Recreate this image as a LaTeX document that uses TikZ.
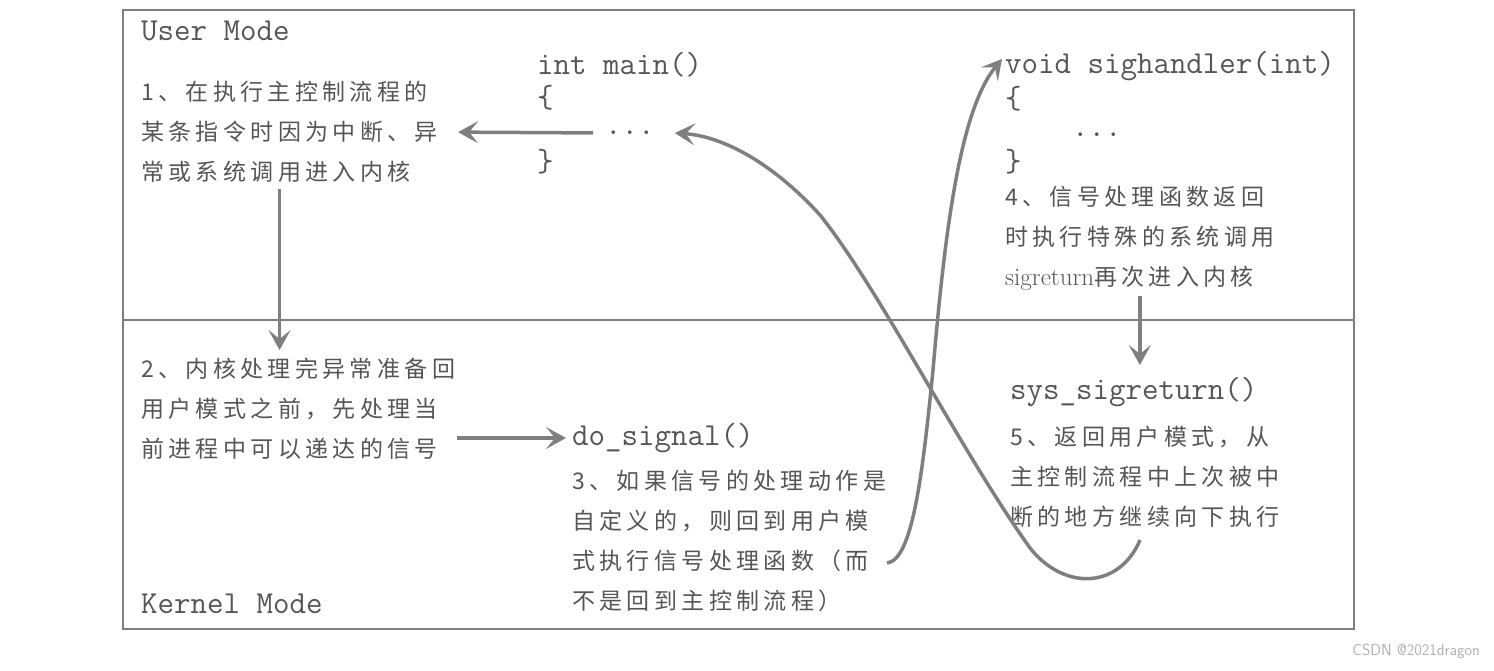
\documentclass[tikz,border=0pt]{standalone}
\usepackage{fontspec}
\newfontfamily\cjk{Noto Sans CJK SC}[LetterSpace=19]
\usepackage{xcolor}
\definecolor{linegray}{HTML}{7F7F7F}
\definecolor{textgray}{HTML}{555555}
\usetikzlibrary{arrows.meta}

\begin{document}
\begin{tikzpicture}[x=1pt, y=-1pt,
  code/.style={anchor=west, inner sep=0pt, text=textgray, font=\fontsize{32}{32}\selectfont\ttfamily},
  note/.style={anchor=west, inner sep=0pt, align=left, text=textgray, font=\fontsize{23}{40}\selectfont\cjk},
  frame/.style={draw=linegray, line width=2.5pt},
  arr/.style={draw=linegray, line width=3.5pt, -{Stealth[length=20pt,width=22pt,inset=9pt]}}]
  \useasboundingbox (0,0) rectangle (1494,670);

  \draw[frame] (123,10) rectangle (1354,629);
  \draw[frame] (123,320) -- (1354,320);

  \node[code] (user) at (141,31) {User Mode};
  \node[code] (kernel) at (141,604) {Kernel Mode};

  \node[code] (mainhead) at (537,65) {int main()};
  \node[code] (mainopen) at (537,98) {\{};
  \node[code] (maindots) at (605,133) {...};
  \node[code] (mainclose) at (537,162) {\}};

  \node[code] (handler) at (1005,66) {void sighandler(int)};
  \node[code] (handopen) at (1005,99) {\{};
  \node[code] (handdots) at (1072,135) {...};
  \node[code] (handclose) at (1005,162) {\}};

  \node[code] (dosig) at (572,438) {do\_signal()};
  \node[code] (sysret) at (1010,392) {sys\_sigreturn()};

  \node[note] (step1) at (141,132) {1、在执行主控制流程的\\某条指令时因为中断、异\\常或系统调用进入内核};
  \node[note] (step2) at (141,409) {2、内核处理完异常准备回\\用户模式之前，先处理当\\前进程中可以递达的信号};
  \node[note] (step3) at (572,541) {3、如果信号的处理动作是\\自定义的，则回到用户模\\式执行信号处理函数（而\\不是回到主控制流程）};
  \node[note] (step4) at (1005,238) {4、信号处理函数返回\\时执行特殊的系统调用\\{\rmfamily\fontsize{25}{40}\selectfont sigreturn}再次进入内核};
  \node[note] (step5) at (1010,477) {5、返回用户模式，从\\主控制流程中上次被中\\断的地方继续向下执行};

  \node[anchor=east, inner sep=0pt, text=gray!60, font=\fontsize{16}{16}\selectfont\sffamily] (mark) at (1480,651) {CSDN @2021dragon};

  \coordinate (from3) at (887,563);
  \coordinate (from5) at (1140,540);

  \draw[arr, shorten <=12pt, shorten >=20pt] (maindots.west) -- (step1.east);
  \draw[arr, shorten <=6pt, shorten >=8pt] ([xshift=-10pt]step1.south) -- ([xshift=-10pt]step1.south |- step2.north);
  \draw[arr, shorten <=2pt, shorten >=6pt] (step2.east |- dosig.west) -- (dosig.west);
  \draw[arr, shorten <=6pt, shorten >=12pt] (step4.south) -- (step4.south |- sysret.north);

  \draw[arr] (from3) .. controls (912,560) and (922,480) .. (933,370)
    .. controls (945,230) and (960,110) .. ([xshift=-3pt,yshift=7pt]handler.west);
  \draw[arr] (from5) .. controls (1120,588) and (1065,592) .. (1030,548)
    .. controls (960,450) and (880,290) .. (820,215)
    .. controls (770,160) and (720,136) .. ([xshift=20pt]maindots.east);
\end{tikzpicture}
\end{document}
